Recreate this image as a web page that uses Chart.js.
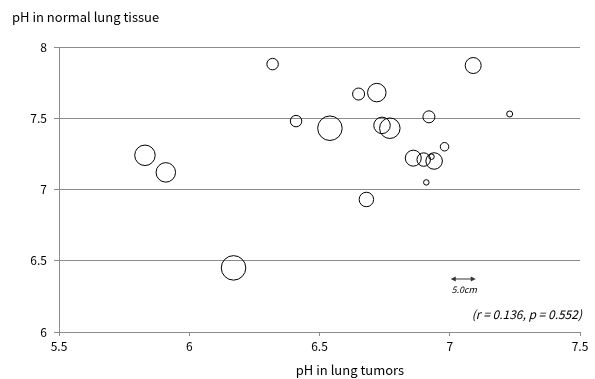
<!DOCTYPE html>
<html>
<head>
<meta charset="utf-8">
<title>pH in lung tumors vs normal lung tissue</title>
<script src="https://cdn.jsdelivr.net/npm/chart.js@4.4.0/dist/chart.umd.min.js"></script>
<style>
  html, body { margin: 0; padding: 0; background: #fff; }
  #wrap { width: 595px; height: 379px; position: relative; }
</style>
</head>
<body>
<div id="wrap"><canvas id="chart"></canvas></div>
<script>
// pH in lung tumors (x), pH in normal lung tissue (y), tumor diameter in cm
const tumorPH  = [5.83, 5.91, 6.32, 6.41, 6.54, 6.65, 6.72, 6.74, 6.77, 6.92, 7.23, 6.98, 6.86, 6.90, 6.93, 6.94, 6.91, 6.68, 7.09, 6.17];
const normalPH = [7.24, 7.12, 7.88, 7.48, 7.43, 7.67, 7.68, 7.45, 7.43, 7.51, 7.53, 7.30, 7.22, 7.21, 7.23, 7.20, 7.05, 6.93, 7.87, 6.45];
const tumorSize = [4.1, 3.9, 2.3, 2.3, 4.9, 2.4, 3.7, 3.3, 4.1, 2.4, 1.2, 1.7, 3.2, 2.7, 1.1, 3.3, 1.1, 2.9, 3.2, 4.9];

const xTicks = [5.5, 6, 6.5, 7, 7.5];
const yTicks = [6, 6.5, 7, 7.5, 8];
const statsText = '(r = 0.136, p = 0.552)';
const refSizeCm = 5.0;

const PX_PER_CM = 5;           // diameter in px per cm
const FONT = "'Noto Sans CJK JP', 'Noto Sans', sans-serif";
const GRID = '#8c8c8c';

const points = tumorPH.map((x, i) => ({ x: x, y: normalPH[i], r: tumorSize[i] * PX_PER_CM / 2 }));

// custom texts: axis titles, size key, stats
const extras = {
  id: 'extras',
  afterDraw(chart) {
    const ctx = chart.ctx;
    const xs = chart.scales.x, ys = chart.scales.y;
    ctx.save();
    ctx.fillStyle = '#000';
    ctx.textBaseline = 'middle';

    ctx.font = '13px ' + FONT;
    ctx.textAlign = 'left';
    ctx.fillText('pH in normal lung tissue', 12, 17);
    ctx.textAlign = 'center';
    ctx.fillText('pH in lung tumors', 350, 370);

    // size key arrow
    const x0 = xs.getPixelForValue(7.0) + 1;
    const x1 = x0 + refSizeCm * PX_PER_CM;
    const y0 = ys.getPixelForValue(6.372);
    ctx.strokeStyle = '#333';
    ctx.fillStyle = '#333';
    ctx.lineWidth = 1;
    ctx.beginPath();
    ctx.moveTo(x0 + 2, y0);
    ctx.lineTo(x1 - 2, y0);
    ctx.stroke();
    [[x0, 1], [x1, -1]].forEach(([ax, d]) => {
      ctx.beginPath();
      ctx.moveTo(ax, y0);
      ctx.lineTo(ax + 5 * d, y0 - 2.5);
      ctx.lineTo(ax + 5 * d, y0 + 2.5);
      ctx.closePath();
      ctx.fill();
    });
    ctx.fillStyle = '#000';
    ctx.font = 'italic 9px ' + FONT;
    ctx.textAlign = 'center';
    ctx.fillText(refSizeCm.toFixed(1) + 'cm', (x0 + x1) / 2 + 1, y0 + 11);

    ctx.font = 'italic 12px ' + FONT;
    ctx.textAlign = 'right';
    ctx.fillText(statsText, 582, 314);
    ctx.restore();
  }
};

new Chart(document.getElementById('chart'), {
  type: 'bubble',
  data: {
    datasets: [{
      data: points,
      backgroundColor: 'rgba(255,255,255,0)',
      borderColor: '#000',
      borderWidth: 1,
      hoverRadius: 0
    }]
  },
  options: {
    responsive: true,
    maintainAspectRatio: false,
    animation: false,
    layout: { padding: { left: 0, top: 47, right: 15, bottom: 22 } },
    plugins: { legend: { display: false }, tooltip: { enabled: false } },
    scales: {
      x: {
        type: 'linear',
        min: 5.5, max: 7.5,
        afterBuildTicks: s => { s.ticks = xTicks.map(v => ({ value: v })); },
        afterFit: s => { s.height = 25; },
        grid: { drawOnChartArea: false, tickLength: 4, color: GRID },
        border: { color: GRID, width: 1 },
        ticks: { color: '#000', font: { size: 12, family: FONT }, padding: 3, maxRotation: 0, callback: v => String(v) }
      },
      y: {
        type: 'linear',
        min: 6, max: 8,
        afterBuildTicks: s => { s.ticks = yTicks.map(v => ({ value: v })); },
        afterFit: s => { s.width = 59; },
        grid: { color: GRID, tickLength: 5 },
        border: { color: GRID, width: 1 },
        ticks: { color: '#000', font: { size: 12, family: FONT }, padding: 7, callback: v => String(v) }
      }
    }
  },
  plugins: [extras]
});
</script>
</body>
</html>
